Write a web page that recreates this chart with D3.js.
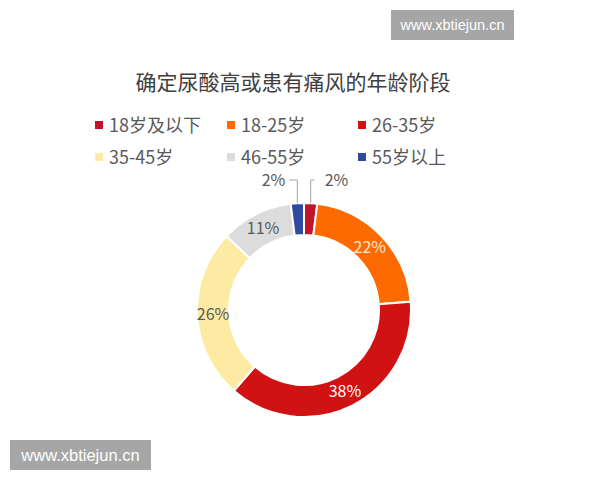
<!DOCTYPE html>
<html lang="zh">
<head>
<meta charset="utf-8">
<title>确定尿酸高或患有痛风的年龄阶段</title>
<script src="https://d3js.org/d3.v7.min.js"></script>
<style>
  body { margin: 0; background: #fff; }
  text { font-family: "Noto Sans CJK SC", "Noto Sans", sans-serif; }
</style>
</head>
<body>
<div id="chart"></div>
<script>
// data
const categories = ["18岁及以下", "18-25岁", "26-35岁", "35-45岁", "46-55岁", "55岁以上"];
const values = [2, 22, 38, 26, 11, 2];
const colors = ["#C0142C", "#FF6A00", "#D01212", "#FDEBA4", "#DCDCDC", "#2E4BA0"];
const labelColors = ["#595959", "#FFE6D0", "#FFFFFF", "#595959", "#595959", "#595959"];
const title = "确定尿酸高或患有痛风的年龄阶段";
const watermark = "www.xbtiejun.cn";

const width = 600, height = 480;
const cx = 304, cy = 310, outerR = 107, innerR = 75;

const svg = d3.select("#chart").append("svg")
  .attr("width", width).attr("height", height);

svg.append("rect").attr("width", width).attr("height", height).attr("fill", "#fff");

// title
svg.append("text")
  .attr("x", 293).attr("y", 90)
  .attr("text-anchor", "middle")
  .attr("font-size", 21)
  .attr("fill", "#404040")
  .text(title);

// legend, 3 columns x 2 rows
const legendX = [95, 227, 358];
const legendY = [125, 157];
const legend = svg.append("g").selectAll("g")
  .data(categories)
  .enter().append("g")
  .attr("transform", (d, i) => `translate(${legendX[i % 3]},${legendY[Math.floor(i / 3)]})`);

legend.append("rect")
  .attr("x", 0).attr("y", -4).attr("width", 8).attr("height", 8)
  .attr("fill", (d, i) => colors[i]);

legend.append("text")
  .attr("x", 14).attr("y", 6.5)
  .attr("font-size", 18)
  .attr("fill", "#595959")
  .text(d => d);

// donut
const pie = d3.pie().sort(null).value(d => d);
const arcs = pie(values);
const arc = d3.arc().innerRadius(innerR).outerRadius(outerR);
const labelArc = d3.arc().innerRadius(91).outerRadius(91);

const g = svg.append("g").attr("transform", `translate(${cx},${cy})`);

g.selectAll("path")
  .data(arcs)
  .enter().append("path")
  .attr("d", arc)
  .attr("fill", (d, i) => colors[i])
  .attr("stroke", "#fff")
  .attr("stroke-width", 2);

// inside labels for the big slices
g.selectAll("text.inside")
  .data(arcs.filter(d => d.data >= 5))
  .enter().append("text")
  .attr("class", "inside")
  .attr("transform", d => `translate(${labelArc.centroid(d)})`)
  .attr("text-anchor", "middle")
  .attr("dy", "0.35em")
  .attr("font-size", 16)
  .attr("fill", d => labelColors[d.index])
  .text(d => d.data + "%");

// outside labels with leader lines for the two thin slices
const small = arcs.filter(d => d.data < 5);
small.forEach(d => {
  const mid = (d.startAngle + d.endAngle) / 2;
  const x0 = Math.sin(mid) * outerR;
  const y0 = -Math.cos(mid) * outerR;
  const left = mid > Math.PI;
  const yL = -130;
  const x1 = left ? x0 - 8 : x0 + 4;
  g.append("polyline")
    .attr("points", [[x0, y0], [x0, yL], [x1, yL]].map(p => p.join(",")).join(" "))
    .attr("fill", "none")
    .attr("stroke", "#A6A6A6")
    .attr("stroke-width", 1);
  g.append("text")
    .attr("x", left ? x1 - 4 : x1 + 10)
    .attr("y", yL)
    .attr("dy", "0.35em")
    .attr("text-anchor", left ? "end" : "start")
    .attr("font-size", 16)
    .attr("fill", "#595959")
    .text(d.data + "%");
});

// watermarks
const marks = [
  { x: 391, y: 10, w: 123, h: 30, fs: 14.5 },
  { x: 10, y: 440, w: 141, h: 30, fs: 16.5 }
];
marks.forEach(m => {
  svg.append("rect")
    .attr("x", m.x).attr("y", m.y).attr("width", m.w).attr("height", m.h)
    .attr("fill", "#A6A6A6");
  svg.append("text")
    .attr("x", m.x + m.w / 2).attr("y", m.y + m.h / 2)
    .attr("dy", "0.35em")
    .attr("text-anchor", "middle")
    .attr("font-size", m.fs)
    .attr("fill", "#fff")
    .style("font-family", "'Liberation Sans', Arial, sans-serif")
    .text(watermark);
});
</script>
</body>
</html>
